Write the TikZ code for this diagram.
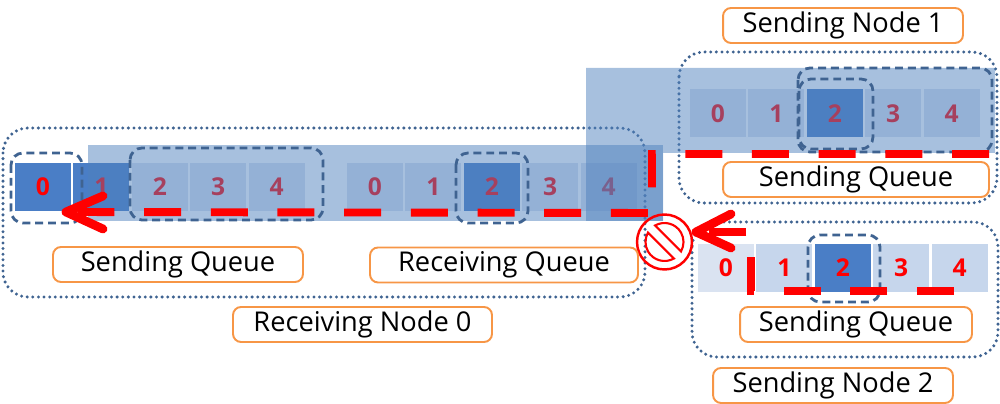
\documentclass[tikz,border=0pt]{standalone}
\usepackage{fontspec}
\setmainfont{Open Sans}
\usepackage{tikz}
\definecolor{cellblue}{HTML}{4A7EC6}
\definecolor{palecell}{HTML}{DAE3F1}
\definecolor{lightcell}{HTML}{C6D6EC}
\definecolor{bandblue}{HTML}{4F81BD}
\definecolor{frameblue}{HTML}{3F6391}
\definecolor{lblorange}{HTML}{F79646}

\begin{document}
\begin{tikzpicture}[x=0.02cm,y=-0.02cm,
  cell/.style={minimum width=1.12cm,minimum height=0.96cm,inner sep=0pt,fill=palecell,text=red,font=\fontsize{14}{16}\selectfont\bfseries},
  cold/.style={},
  cool/.style={fill=lightcell},
  hot/.style={fill=cellblue},
  band/.style={fill=bandblue,fill opacity=0.5},
  nodebox/.style={draw=frameblue,line width=1.9pt,dash pattern=on 0pt off 3.2pt,line cap=round,rounded corners=0.5cm},
  selbox/.style={draw=frameblue,line width=1.6pt,dash pattern=on 4.5pt off 2.8pt,rounded corners=0.24cm},
  lbl/.style={draw=lblorange,line width=1.1pt,fill=white,rounded corners=0.16cm,minimum height=0.7cm,inner sep=0pt,font=\fontsize{15.5}{18}\selectfont},
  flow/.style={draw=red,line width=4.5pt,dash pattern=on 0.74cm off 0.594cm},
  arrowhd/.style={draw=red,line width=5pt,line cap=round,line join=round}]
\useasboundingbox (0,0) rectangle (1000,404);

\draw[nodebox] (3,128) rectangle (645,297);
\draw[nodebox] (679,52) rectangle (997,203);
\draw[nodebox] (692,222) rectangle (998,357);

\foreach \i/\s in {0/hot,1/hot,2/cold,3/cold,4/cold}
  \node[cell,\s] (rsq\i) at (43+58.4*\i,187) {\i};
\foreach \i/\s in {0/cold,1/cold,2/hot,3/cold,4/cold} {
  \node[cell,\s] (rrq\i) at (375+58.4*\i,187) {\i};
  \node[cell,\s] (s1q\i) at (718+58.4*\i,113.5) {\i};
}
\foreach \i/\s in {0/cold,1/cool,2/hot,3/cool,4/cool}
  \node[cell,\s] (s2q\i) at (726+58.4*\i,268) {\i};

\fill[band] (88,145) rectangle (663,221);
\fill[band] (586,68) -- (995,68) -- (995,153) -- (663,153) -- (663,221) -- (586,221) -- cycle;

\draw[selbox] (11,153) rectangle (82,223);
\draw[selbox] (130,148) rectangle (323,220);
\draw[selbox] (456,153) rectangle (528,223);
\draw[selbox] (798,68) rectangle (992,152);
\draw[selbox] (799,79) rectangle (873,149);
\draw[selbox] (808,235) rectangle (880,302);

\coordinate (s1out) at (989,154);
\coordinate (turn1) at (652,213);
\coordinate (rin) at (66,212);
\draw[flow] (s1out) -| (turn1) -- (rin);
\draw[arrowhd] (rin) ++(37,-16) -- (rin) -- ++(37,17);

\coordinate (s2out) at (954,291);
\coordinate (turn2) at (751,232);
\coordinate (blk) at (696,232);
\draw[flow] (s2out) -| (turn2) -- (blk);
\draw[arrowhd] (blk) ++(35,-18) -- (blk) -- ++(35,16);

\node[circle,draw=red,line width=1.4pt,minimum size=1.1cm,inner sep=0pt] (stop) at (664.5,242) {};
\draw[red,line width=1.2pt] (stop.center) ++(-119.7:19) arc[start angle=-119.7,end angle=29.7,radius=19] -- cycle;
\draw[red,line width=1.2pt] (stop.center) ++(60.3:19) arc[start angle=60.3,end angle=209.7,radius=19] -- cycle;

\node[lbl,minimum width=5cm] (rsql) at (178,264.5) {Sending Queue};
\node[lbl,minimum width=5.36cm] (rrql) at (504,265) {Receiving Queue};
\node[lbl,minimum width=5.18cm] (rn0) at (362.5,324.5) {Receiving Node 0};
\node[lbl,minimum width=4.8cm] (sn1) at (843,25.5) {Sending Node 1};
\node[lbl,minimum width=5.32cm] (s1ql) at (856,179.5) {Sending Queue};
\node[lbl,minimum width=4.64cm] (s2ql) at (856,324.5) {Sending Queue};
\node[lbl,minimum width=4.8cm] (sn2) at (833,385.5) {Sending Node 2};
\end{tikzpicture}
\end{document}
